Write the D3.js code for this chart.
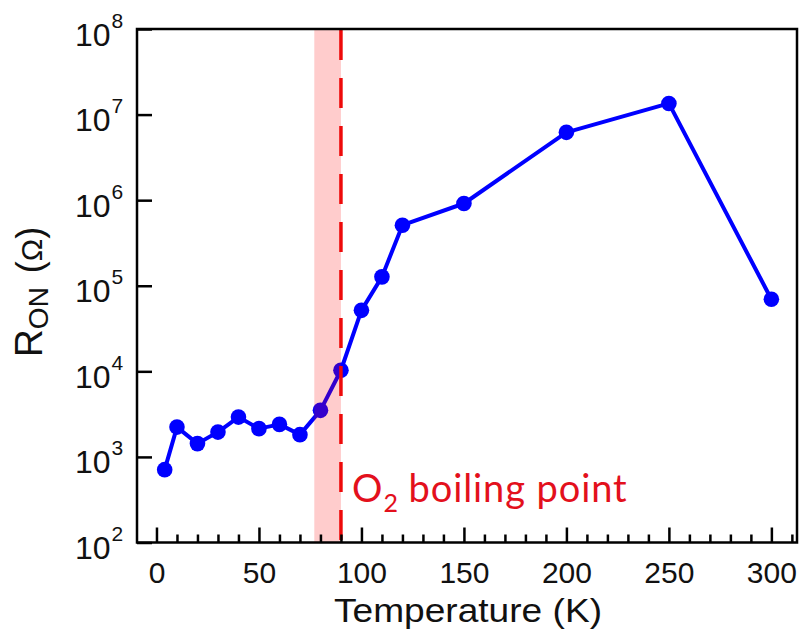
<!DOCTYPE html>
<html>
<head>
<meta charset="utf-8">
<script src="https://cdn.jsdelivr.net/npm/d3@7"></script>
<style>
  html, body { margin: 0; padding: 0; background: #fff; }
  svg { display: block; }
</style>
</head>
<body>
<svg id="chart" width="799" height="635"></svg>
<script>
// ---- data ----
const temperatures = [4, 10, 20, 30, 40, 50, 60, 70, 80, 90, 100, 110, 120, 150, 200, 250, 300];
const rOn = [710, 2230, 1430, 1950, 2920, 2140, 2400, 1820, 3500, 10300, 51600, 127000, 510000, 914000, 6.2e6, 1.35e7, 69500];
const xMajorTicks = [0, 50, 100, 150, 200, 250, 300];
const xMinorTicks = [10, 20, 30, 40, 60, 70, 80, 90, 110, 120, 130, 140, 160, 170, 180, 190, 210, 220, 230, 240, 260, 270, 280, 290, 310];
const yTickExponents = [2, 3, 4, 5, 6, 7, 8];
const bandRange = [77, 90];      // shaded region (K)
const boilingPoint = [90];       // O2 boiling point (K)

// ---- layout ----
const L = 137, R = 797, T = 29, B = 542.5;
const svg = d3.select("#chart");
const x = d3.scaleLinear().domain([-9.5, 312.5]).range([L, R]);
const y = d3.scaleLog().domain([1e2, 1e8]).range([B, T]);
const FONT = "'Liberation Sans', Arial, Helvetica, sans-serif";

// data line + markers
const line = d3.line().x((d, i) => x(temperatures[i])).y(d => y(d));
svg.append("path").datum(rOn)
  .attr("d", line).attr("fill", "none")
  .attr("stroke", "#0000ff").attr("stroke-width", 4).attr("stroke-linejoin", "round");
svg.append("g").selectAll("circle").data(rOn).join("circle")
  .attr("cx", (d, i) => x(temperatures[i])).attr("cy", d => y(d))
  .attr("r", 7.8).attr("fill", "#0000ff");

// shaded band (drawn on top, translucent)
svg.append("rect")
  .attr("x", x(bandRange[0])).attr("y", T)
  .attr("width", x(bandRange[1]) - x(bandRange[0])).attr("height", B - T)
  .attr("fill", "rgba(255,0,0,0.2)");
// dashed boiling line
svg.append("g").selectAll("line").data(boilingPoint).join("line")
  .attr("x1", d => x(d)).attr("x2", d => x(d))
  .attr("y1", T + 1).attr("y2", B)
  .attr("stroke", "#ee0a0a").attr("stroke-width", 3.5)
  .attr("stroke-dasharray", "30,18");

// axes
const xAxis = svg.append("g").attr("transform", `translate(0,${B})`)
  .call(d3.axisBottom(x).tickValues(xMajorTicks).tickSizeInner(-15).tickSizeOuter(0).tickPadding(19));
xAxis.select(".domain").remove();
xAxis.selectAll(".tick line").attr("stroke", "#000").attr("stroke-width", 2.5);
xAxis.selectAll(".tick text").attr("font-family", FONT).attr("font-size", 30).attr("fill", "#111");

const xMinor = svg.append("g").attr("transform", `translate(0,${B})`)
  .call(d3.axisBottom(x).tickValues(xMinorTicks).tickSizeInner(-8).tickSizeOuter(0).tickFormat(""));
xMinor.select(".domain").remove();
xMinor.selectAll(".tick line").attr("stroke", "#000").attr("stroke-width", 2.5);

const yAxis = svg.append("g").attr("transform", `translate(${L},0)`)
  .call(d3.axisLeft(y).tickValues(yTickExponents.map(e => Math.pow(10, e))).tickSizeInner(-15).tickSizeOuter(0).tickFormat(""));
yAxis.select(".domain").remove();
yAxis.selectAll(".tick line").attr("stroke", "#000").attr("stroke-width", 2.5);
yAxis.selectAll(".tick").each(function(d, i) {
  const g = d3.select(this);
  const t = g.append("text").attr("x", -62).attr("y", 16).attr("text-anchor", "start")
    .attr("font-family", FONT).attr("fill", "#111");
  t.append("tspan").attr("font-size", 32).text("10");
  t.append("tspan").attr("font-size", 21).attr("dx", 1).attr("dy", -18).text(yTickExponents[i]);
});

// frame
svg.append("rect").attr("x", L).attr("y", T).attr("width", R - L).attr("height", B - T)
  .attr("fill", "none").attr("stroke", "#000").attr("stroke-width", 2.5);

// axis titles
svg.append("text").attr("x", 468).attr("y", 622).attr("text-anchor", "middle")
  .attr("font-family", FONT).attr("font-size", 33).attr("fill", "#111")
  .attr("textLength", 268).attr("lengthAdjust", "spacingAndGlyphs").text("Temperature (K)");

const yt = svg.append("text").attr("transform", "translate(42,292) rotate(-90)")
  .attr("text-anchor", "middle").attr("font-family", FONT).attr("fill", "#111");
yt.append("tspan").attr("font-size", 39).text("R");
yt.append("tspan").attr("font-size", 28).attr("dy", 6).text("ON");
yt.append("tspan").attr("font-size", 36).attr("dx", 4).attr("dy", -6).text(" (");
yt.append("tspan").attr("font-size", 30).text("Ω");
yt.append("tspan").attr("font-size", 36).text(")");

// annotation
const ann = svg.append("text").attr("x", 352).attr("y", 502)
  .attr("font-family", "Lato, 'Open Sans', sans-serif").attr("font-size", 38).attr("fill", "#e3101c");
ann.append("tspan").text("O");
ann.append("tspan").attr("font-size", 25).attr("dx", 1).attr("dy", 10).text("2");
ann.append("tspan").attr("dy", -10).attr("letter-spacing", 0.9).text(" boiling point");
</script>
</body>
</html>
